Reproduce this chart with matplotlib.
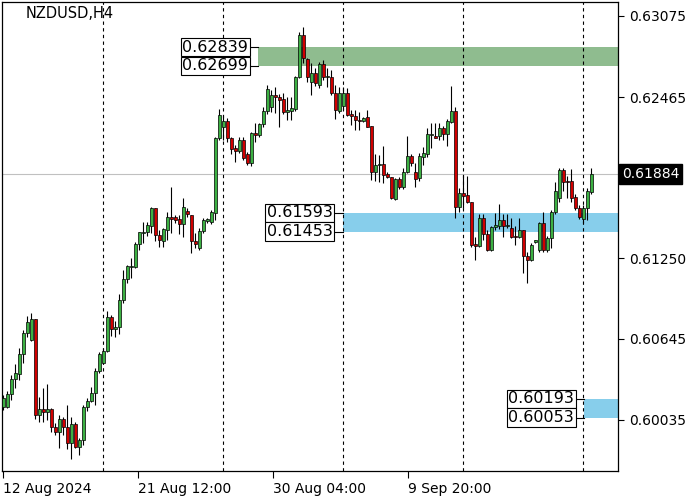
import matplotlib
matplotlib.use("Agg")
import matplotlib.pyplot as plt
import numpy as np

# NZDUSD H4 candles
opens = [0.60133, 0.60133, 0.60231, 0.60343, 0.60381, 0.60532, 0.60690, 0.60637, 0.60795, 0.60073,
         0.60118, 0.60095, 0.60118, 0.59982, 0.59945, 0.60042, 0.59982, 0.59862, 0.60005, 0.59832,
         0.59884, 0.60133, 0.60178, 0.60238, 0.60404, 0.60464, 0.60554, 0.60810, 0.60720, 0.60735,
         0.60938, 0.61096, 0.61186, 0.61186, 0.61359, 0.61442, 0.61450, 0.61495, 0.61630, 0.61427,
         0.61382, 0.61465, 0.61563, 0.61563, 0.61547, 0.61510, 0.61608, 0.61578, 0.61382, 0.61329,
         0.61457, 0.61532, 0.61525, 0.61593, 0.62157, 0.62240, 0.62285, 0.62157, 0.62082, 0.62059,
         0.62142, 0.62037, 0.61969, 0.62195, 0.62180, 0.62262, 0.62360, 0.62390, 0.62481, 0.62465,
         0.62450, 0.62353, 0.62360, 0.62375, 0.62616, 0.62932, 0.62751, 0.62578, 0.62646, 0.62556,
         0.62714, 0.62616, 0.62616, 0.62496, 0.62360, 0.62398, 0.62496, 0.62338, 0.62323, 0.62292,
         0.62285, 0.62315, 0.62247, 0.61901, 0.61954, 0.61961, 0.61886, 0.61863, 0.61698, 0.61848,
         0.61788, 0.61901, 0.62022, 0.61901, 0.61856, 0.62014, 0.62037, 0.62180, 0.62172, 0.62172,
         0.62232, 0.62187, 0.62277, 0.62360, 0.61638, 0.61743, 0.61728, 0.61675, 0.61359, 0.61344,
         0.61555, 0.61435, 0.61314, 0.61487, 0.61495, 0.61540, 0.61495, 0.61480, 0.61420, 0.61412,
         0.61465, 0.61269, 0.61239, 0.61374, 0.61314, 0.61517, 0.61314, 0.61404, 0.61600, 0.61705,
         0.61916, 0.61833, 0.61833, 0.61713, 0.61630, 0.61547, 0.61630, 0.61751]
highs = [0.60223, 0.60253, 0.60373, 0.60456, 0.60577, 0.60712, 0.60818, 0.60840, 0.60795, 0.60208,
         0.60276, 0.60306, 0.60125, 0.60012, 0.60073, 0.60058, 0.60148, 0.60058, 0.60020, 0.59899,
         0.60148, 0.60200, 0.60283, 0.60426, 0.60547, 0.60577, 0.60855, 0.60825, 0.60780, 0.60983,
         0.61164, 0.61201, 0.61254, 0.61374, 0.61450, 0.61525, 0.61525, 0.61638, 0.61630, 0.61465,
         0.61480, 0.61600, 0.61788, 0.61578, 0.61578, 0.61705, 0.61630, 0.61578, 0.61442, 0.61480,
         0.61555, 0.61555, 0.61615, 0.62164, 0.62375, 0.62330, 0.62307, 0.62164, 0.62104, 0.62164,
         0.62164, 0.62052, 0.62202, 0.62270, 0.62270, 0.62390, 0.62556, 0.62518, 0.62541, 0.62488,
         0.62496, 0.62465, 0.62465, 0.62624, 0.62955, 0.62992, 0.62759, 0.62721, 0.62684, 0.62729,
         0.62744, 0.62684, 0.62669, 0.62556, 0.62541, 0.62541, 0.62533, 0.62368, 0.62368, 0.62353,
         0.62315, 0.62368, 0.62247, 0.62037, 0.62029, 0.62097, 0.61901, 0.61863, 0.61856, 0.61863,
         0.61931, 0.62172, 0.62037, 0.61969, 0.62044, 0.62089, 0.62232, 0.62270, 0.62270, 0.62270,
         0.62247, 0.62300, 0.62548, 0.62390, 0.61781, 0.61879, 0.61871, 0.61675, 0.61412, 0.61585,
         0.61585, 0.61465, 0.61495, 0.61593, 0.61660, 0.61585, 0.61585, 0.61555, 0.61495, 0.61555,
         0.61465, 0.61299, 0.61367, 0.61389, 0.61525, 0.61600, 0.61420, 0.61615, 0.61826, 0.61931,
         0.61931, 0.61871, 0.61924, 0.61736, 0.61653, 0.61653, 0.61781, 0.61931]
lows = [0.60110, 0.60125, 0.60185, 0.60276, 0.60336, 0.60464, 0.60659, 0.60629, 0.60042, 0.60020,
        0.60020, 0.60035, 0.59945, 0.59922, 0.59824, 0.59922, 0.59817, 0.59741, 0.59824, 0.59772,
        0.59847, 0.60103, 0.60170, 0.60148, 0.60389, 0.60456, 0.60547, 0.60667, 0.60659, 0.60682,
        0.60915, 0.61066, 0.61103, 0.61179, 0.61314, 0.61367, 0.61420, 0.61442, 0.61382, 0.61337,
        0.61337, 0.61389, 0.61442, 0.61517, 0.61435, 0.61412, 0.61563, 0.61292, 0.61329, 0.61314,
        0.61442, 0.61517, 0.61510, 0.61540, 0.62142, 0.62142, 0.62127, 0.62037, 0.61976, 0.62044,
        0.61991, 0.61954, 0.61946, 0.62127, 0.62164, 0.62240, 0.62338, 0.62353, 0.62345, 0.62240,
        0.62338, 0.62292, 0.62292, 0.62360, 0.62608, 0.62721, 0.62578, 0.62481, 0.62548, 0.62533,
        0.62593, 0.62541, 0.62481, 0.62300, 0.62345, 0.62368, 0.62323, 0.62255, 0.62217, 0.62217,
        0.62277, 0.62240, 0.61841, 0.61833, 0.61826, 0.61818, 0.61856, 0.61698, 0.61690, 0.61773,
        0.61773, 0.61894, 0.61946, 0.61788, 0.61833, 0.61954, 0.62014, 0.62082, 0.62157, 0.62142,
        0.62142, 0.62097, 0.62270, 0.61555, 0.61600, 0.61630, 0.61668, 0.61337, 0.61239, 0.61337,
        0.61389, 0.61307, 0.61307, 0.61465, 0.61472, 0.61412, 0.61480, 0.61404, 0.61352, 0.61404,
        0.61141, 0.61066, 0.61231, 0.61367, 0.61299, 0.61299, 0.61299, 0.61329, 0.61585, 0.61675,
        0.61758, 0.61705, 0.61675, 0.61615, 0.61547, 0.61517, 0.61540, 0.61736]
closes = [0.60200, 0.60231, 0.60343, 0.60389, 0.60532, 0.60690, 0.60772, 0.60795, 0.60073, 0.60118,
          0.60095, 0.60118, 0.59982, 0.59945, 0.60042, 0.59982, 0.59862, 0.60005, 0.59832, 0.59884,
          0.60133, 0.60178, 0.60238, 0.60404, 0.60532, 0.60554, 0.60810, 0.60720, 0.60735, 0.60938,
          0.61096, 0.61194, 0.61194, 0.61359, 0.61450, 0.61450, 0.61502, 0.61630, 0.61427, 0.61389,
          0.61472, 0.61563, 0.61547, 0.61540, 0.61510, 0.61638, 0.61585, 0.61382, 0.61359, 0.61457,
          0.61540, 0.61547, 0.61600, 0.62157, 0.62330, 0.62285, 0.62157, 0.62074, 0.62059, 0.62142,
          0.62006, 0.61969, 0.62195, 0.62180, 0.62262, 0.62360, 0.62526, 0.62481, 0.62465, 0.62443,
          0.62353, 0.62368, 0.62383, 0.62616, 0.62932, 0.62759, 0.62616, 0.62646, 0.62571, 0.62714,
          0.62616, 0.62624, 0.62496, 0.62368, 0.62496, 0.62496, 0.62330, 0.62323, 0.62292, 0.62285,
          0.62307, 0.62240, 0.61901, 0.61954, 0.61961, 0.61879, 0.61863, 0.61705, 0.61848, 0.61788,
          0.61901, 0.62022, 0.61969, 0.61848, 0.62022, 0.62044, 0.62187, 0.62187, 0.62157, 0.62232,
          0.62187, 0.62285, 0.62360, 0.61638, 0.61743, 0.61721, 0.61675, 0.61352, 0.61344, 0.61555,
          0.61435, 0.61314, 0.61487, 0.61502, 0.61540, 0.61495, 0.61502, 0.61412, 0.61412, 0.61465,
          0.61269, 0.61239, 0.61352, 0.61389, 0.61517, 0.61314, 0.61404, 0.61600, 0.61758, 0.61916,
          0.61826, 0.61826, 0.61705, 0.61630, 0.61563, 0.61630, 0.61758, 0.61884]

current_price = 0.61884
price_ticks = [0.63075, 0.62465, 0.61250, 0.60645, 0.60035]
date_ticks = [0, 33.75, 67.5, 101.25]
date_labels = ["12 Aug 2024", "21 Aug 12:00", "30 Aug 04:00", "9 Sep 20:00"]
separators = [24.9, 54.9, 84.9, 114.9, 144.9]

# zones: (top, bottom, start bar, colour)
zone_tops = [0.62839, 0.61593, 0.60193]
zone_bottoms = [0.62699, 0.61453, 0.60053]
zone_starts = [63.7, 84.9, 145.2]
zone_colors = ["#8fbc8f", "#87ceeb", "#87ceeb"]

fig = plt.figure(figsize=(7, 5), dpi=100)
ax = fig.add_axes([2 / 700, 29 / 500, 616 / 700, 469 / 500])

x = np.arange(len(opens))
o = np.array(opens)
h = np.array(highs)
l = np.array(lows)
c = np.array(closes)

x_max = 153.7
for top, bot, start, col in zip(zone_tops, zone_bottoms, zone_starts, zone_colors):
    ax.fill_between([start, x_max], bot, top, color=col, lw=0, zorder=1)
    box_x = start - 2.5
    ax.plot([box_x, start], [top, top], color="black", lw=0.8, zorder=2)
    ax.plot([box_x, start], [bot, bot], color="black", lw=0.8, zorder=2)
    for p in (top, bot):
        ax.text(box_x, p, f"{p:.5f}", ha="right", va="center", fontsize=11.5,
                bbox=dict(boxstyle="square,pad=0.1", fc="white", ec="black", lw=0.8),
                zorder=5)

ax.axhline(current_price, color="#c0c0c0", lw=0.8, zorder=1)
for s in separators:
    ax.axvline(s, color="black", lw=0.8, ls=(0, (3, 3)), zorder=2)

ax.vlines(x, l, h, color="black", lw=0.8, zorder=3)
colors = ["#3cb043" if cc >= oo else "#d00000" for oo, cc in zip(opens, closes)]
body = np.maximum(np.abs(c - o), 0.00002)
ax.bar(x, body, bottom=np.minimum(o, c), width=0.72, color=colors,
       edgecolor="black", linewidth=0.5, zorder=4)

ax.set_xlim(-0.33, x_max)
ax.set_ylim(0.59651, 0.63180)

ax.yaxis.tick_right()
ax.set_yticks(price_ticks, [f"{p:.5f}" for p in price_ticks])
ax.tick_params(axis="y", direction="out", length=4, labelsize=10, pad=4)
ax.set_xticks(date_ticks, date_labels)
ax.tick_params(axis="x", direction="out", length=5, labelsize=10, pad=3)
for lbl in ax.get_xticklabels():
    lbl.set_ha("left")

for sp in ax.spines.values():
    sp.set_linewidth(0.9)

ax.text(1.006, current_price, f"{current_price:.5f}", transform=ax.get_yaxis_transform(),
        ha="left", va="center", fontsize=10, color="white",
        bbox=dict(boxstyle="square,pad=0.22", fc="black", ec="black"))

ax.text(0.039, 0.992, "NZDUSD,H4", transform=ax.transAxes, ha="left", va="top", fontsize=10.5)

fig.savefig("out.png", dpi=100)
